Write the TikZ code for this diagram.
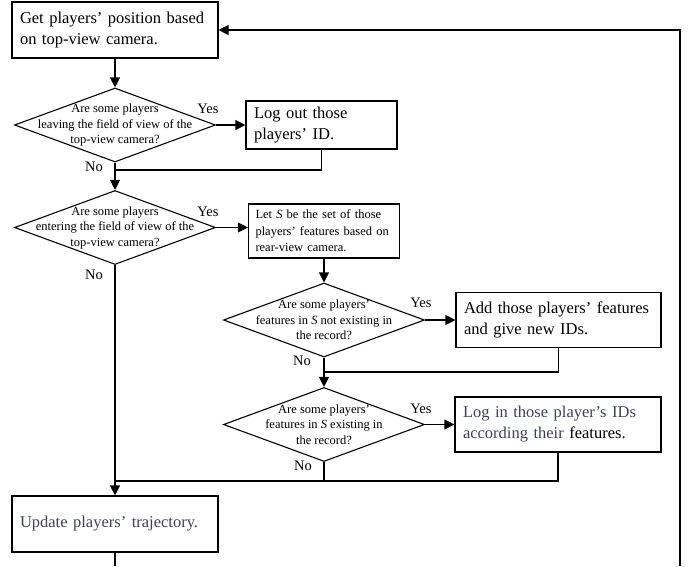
\documentclass[tikz,border=0pt]{standalone}
\usepackage{fontspec}
\setmainfont{Liberation Serif}
\usepackage{xcolor}
\usepackage{tikz}
\usetikzlibrary{positioning,arrows.meta,shapes.geometric}
\definecolor{textblue}{RGB}{60,66,92}

\begin{document}
\begin{tikzpicture}[x=1pt, y=-1pt, line width=1.1pt,
        proc/.style={draw, rectangle, minimum height=56pt, inner xsep=8pt, inner ysep=0pt,
                     align=left, font=\fontsize{16.5}{21}\selectfont},
        decide/.style={draw, diamond, minimum width=201pt, minimum height=74pt, inner sep=0pt},
        qtext/.style={align=center, inner sep=0pt, font=\fontsize{12.5}{15.5}\selectfont},
        lbl/.style={inner sep=0pt, font=\fontsize{14.5}{17}\selectfont},
        flow/.style={-{Triangle[length=10pt,width=10pt]}}
    ]
        \useasboundingbox (0,0) rectangle (689,566);

        \node[proc, text width=190pt] (getpos) at (115,30) {Get players' position based\\on top-view camera.};
        \node[decide, label={[qtext]center:Are some players\\leaving the field of view of the\\top-view camera?}] (dleave) at (115,125) {};
        \node[proc, text width=135pt, minimum height=48pt] (logout) at (321.5,125) {Log out those\\players' ID.};
        \node[decide, label={[qtext]center:Are some players\\entering the field of view of the\\top-view camera?}] (denter) at (115,227.5) {};
        \node[proc, text width=137pt, inner xsep=7pt, minimum height=54pt,
              font=\fontsize{12.5}{16.5}\selectfont] (letS) at (324,231) {Let \textit{S} be the set of those\\players' features based on\\rear-view camera.};
        \node[decide, label={[qtext]center:Are some players'\\features in \textit{S} not existing in\\the record?}] (dnew) at (324,320) {};
        \node[proc, text width=189pt, minimum height=55pt] (addnew) at (558.5,320) {Add those players' features\\and give new IDs.};
        \node[decide, label={[qtext]center:Are some players'\\features in \textit{S} existing in\\the record?}] (dexist) at (324,424.5) {};
        \node[proc, text width=190pt, minimum height=55pt] (login) at (558,424.5) {\textcolor{textblue}{Log in those player's IDs}\\\textcolor{textblue}{according their} features.};
        \node[proc, text width=190pt, text=textblue] (update) at (115,524) {Update players' trajectory.};

        \node[lbl] (yes1) at (208,109) {Yes};
        \node[lbl] (yes2) at (208,212) {Yes};
        \node[lbl] (yes3) at (421,303) {Yes};
        \node[lbl] (yes4) at (421,409) {Yes};
        \node[lbl] (no1) at (94,167) {No};
        \node[lbl] (no2) at (94,275) {No};
        \node[lbl] (no3) at (302,361) {No};
        \node[lbl] (no4) at (303,466) {No};

        \coordinate (m1) at (115,170);
        \coordinate (m2) at (324,372);
        \coordinate (m3) at (115,481);
        \coordinate (e1) at (115,566);
        \coordinate (e2) at (680,566);

        \draw[flow] (getpos.south) -- (dleave.north);
        \draw[flow] (dleave.east) -- (logout.west);
        \draw (logout.south) |- (m1);
        \draw[flow] (dleave.south) -- (denter.north);
        \draw[flow] (denter.east) -- (denter.east -| letS.west);
        \draw[flow] (letS.south) -- (dnew.north);
        \draw[flow] (dnew.east) -- (addnew.west);
        \draw (addnew.south) |- (m2);
        \draw[flow] (dnew.south) -- (dexist.north);
        \draw[flow] (dexist.east) -- (login.west);
        \draw (login.south) |- (m3);
        \draw (dexist.south) -- (dexist.south |- m3);
        \draw[flow] (denter.south) -- (update.north);
        \draw (update.south) -- (e1);
        \draw[flow] (e2) |- (getpos.east);
    \end{tikzpicture}
\end{document}
